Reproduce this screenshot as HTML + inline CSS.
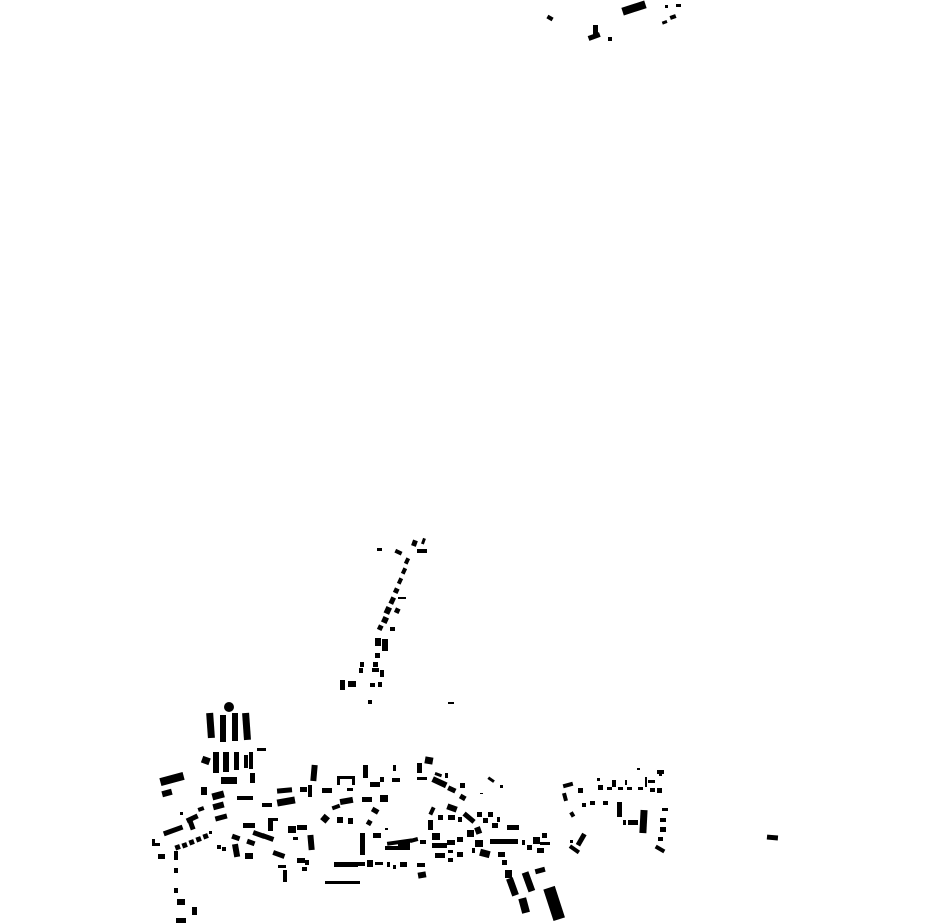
<!DOCTYPE html>
<html><head><meta charset="utf-8"><style>html,body{margin:0;padding:0;background:#fff}svg{display:block}</style></head>
<body>
<svg width="930" height="924" viewBox="0 0 930 924" xmlns="http://www.w3.org/2000/svg">
<g fill="#000">
<!-- top -->
<rect x="547" y="16" width="6" height="4" transform="rotate(30 550 18)"/>
<rect x="622" y="4" width="24" height="8" transform="rotate(-18 634 8)"/>
<rect x="593" y="25" width="5" height="11"/>
<rect x="588" y="34" width="12" height="5" transform="rotate(-20 594 36)"/>
<rect x="608" y="37" width="4" height="4"/>
<rect x="665" y="5" width="3" height="3"/>
<rect x="676" y="4" width="5" height="3"/>
<rect x="670" y="15" width="6" height="4" transform="rotate(-20 673 17)"/>
<rect x="662" y="21" width="5" height="3" transform="rotate(-20 664 22)"/>
<!-- middle strand -->
<rect x="377" y="548" width="5" height="3"/>
<rect x="395" y="550" width="7" height="4" transform="rotate(25 398 552)"/>
<rect x="412" y="540" width="5" height="6" transform="rotate(20 414 543)"/>
<rect x="422" y="538" width="3" height="6" transform="rotate(20 423 541)"/>
<rect x="417" y="549" width="10" height="4"/>
<rect x="405" y="558" width="4" height="6" transform="rotate(25 407 561)"/>
<rect x="402" y="568" width="4" height="6" transform="rotate(25 404 571)"/>
<rect x="398" y="578" width="4" height="6" transform="rotate(25 400 581)"/>
<rect x="394" y="588" width="5" height="5" transform="rotate(25 396 590)"/>
<rect x="390" y="597" width="5" height="7" transform="rotate(25 392 600)"/>
<rect x="398" y="597" width="8" height="2"/>
<rect x="385" y="607" width="6" height="7" transform="rotate(25 388 610)"/>
<rect x="395" y="608" width="5" height="5" transform="rotate(25 397 610)"/>
<rect x="382" y="617" width="6" height="6" transform="rotate(25 385 620)"/>
<rect x="378" y="625" width="5" height="5" transform="rotate(25 380 627)"/>
<rect x="390" y="627" width="5" height="4"/>
<rect x="375" y="638" width="6" height="8"/>
<rect x="382" y="639" width="6" height="12"/>
<rect x="375" y="653" width="5" height="5"/>
<rect x="373" y="662" width="5" height="5"/>
<rect x="360" y="662" width="4" height="5"/>
<rect x="359" y="668" width="4" height="5"/>
<rect x="372" y="668" width="7" height="4"/>
<rect x="380" y="670" width="4" height="7"/>
<rect x="340" y="680" width="5" height="10"/>
<rect x="348" y="681" width="8" height="6"/>
<rect x="370" y="683" width="5" height="4"/>
<rect x="378" y="682" width="4" height="5"/>
<rect x="368" y="700" width="4" height="4"/>
<rect x="448" y="702" width="6" height="2"/>
<!-- left cluster -->
<circle cx="229" cy="707" r="5"/>
<rect x="207" y="713" width="7" height="25" transform="rotate(-4 210 725)"/>
<rect x="220" y="715" width="6" height="27"/>
<rect x="232" y="713" width="6" height="28"/>
<rect x="243" y="713" width="7" height="27" transform="rotate(-4 246 726)"/>
<rect x="202" y="757" width="8" height="7" transform="rotate(20 206 760)"/>
<rect x="213" y="752" width="6" height="21"/>
<rect x="223" y="752" width="6" height="20"/>
<rect x="234" y="752" width="5" height="18"/>
<rect x="244" y="755" width="4" height="13"/>
<rect x="249" y="752" width="4" height="17"/>
<rect x="257" y="748" width="9" height="3"/>
<rect x="160" y="775" width="24" height="8" transform="rotate(-15 172 779)"/>
<rect x="162" y="790" width="10" height="6" transform="rotate(-15 167 793)"/>
<rect x="221" y="777" width="16" height="7"/>
<rect x="250" y="773" width="5" height="10"/>
<rect x="201" y="787" width="6" height="8"/>
<rect x="212" y="792" width="12" height="7" transform="rotate(-15 218 795)"/>
<rect x="213" y="803" width="11" height="6" transform="rotate(-15 218 806)"/>
<rect x="215" y="815" width="12" height="5" transform="rotate(-15 221 817)"/>
<rect x="237" y="796" width="16" height="4"/>
<rect x="180" y="812" width="3" height="3"/>
<rect x="198" y="807" width="6" height="4" transform="rotate(-20 201 809)"/>
<rect x="186" y="816" width="12" height="5" transform="rotate(-25 192 818)"/>
<rect x="189" y="820" width="5" height="10" transform="rotate(-20 191 825)"/>
<rect x="163" y="828" width="20" height="5" transform="rotate(-20 173 830)"/>
<rect x="152" y="839" width="3" height="6"/>
<rect x="152" y="843" width="8" height="3"/>
<rect x="158" y="854" width="7" height="5"/>
<rect x="175" y="845" width="5" height="5" transform="rotate(-20 177 847)"/>
<rect x="182" y="843" width="5" height="5" transform="rotate(-20 184 845)"/>
<rect x="189" y="840" width="5" height="5" transform="rotate(-20 191 842)"/>
<rect x="196" y="837" width="5" height="5" transform="rotate(-20 198 839)"/>
<rect x="203" y="834" width="5" height="5" transform="rotate(-20 205 836)"/>
<rect x="209" y="831" width="3" height="3"/>
<rect x="174" y="851" width="4" height="9"/>
<rect x="174" y="868" width="4" height="5"/>
<rect x="174" y="888" width="4" height="5"/>
<rect x="177" y="899" width="8" height="6"/>
<rect x="192" y="907" width="5" height="8"/>
<rect x="176" y="918" width="10" height="5"/>
<rect x="217" y="845" width="4" height="4"/>
<rect x="222" y="847" width="4" height="4"/>
<rect x="233" y="844" width="6" height="13" transform="rotate(-10 236 850)"/>
<rect x="245" y="853" width="8" height="6"/>
<rect x="232" y="835" width="8" height="5" transform="rotate(20 236 837)"/>
<rect x="262" y="803" width="10" height="4"/>
<rect x="277" y="798" width="18" height="7" transform="rotate(-10 286 801)"/>
<rect x="277" y="788" width="15" height="5" transform="rotate(-5 284 790)"/>
<rect x="300" y="787" width="7" height="5"/>
<rect x="311" y="765" width="6" height="16" transform="rotate(5 314 773)"/>
<rect x="308" y="785" width="4" height="12"/>
<rect x="322" y="788" width="10" height="5"/>
<rect x="337" y="776" width="18" height="3"/>
<rect x="337" y="776" width="3" height="9"/>
<rect x="352" y="776" width="3" height="9"/>
<rect x="347" y="788" width="6" height="3"/>
<rect x="340" y="798" width="13" height="6" transform="rotate(-10 346 801)"/>
<rect x="362" y="797" width="10" height="5"/>
<rect x="380" y="795" width="8" height="7"/>
<rect x="363" y="765" width="5" height="13"/>
<rect x="370" y="782" width="10" height="5"/>
<rect x="380" y="777" width="4" height="5"/>
<rect x="392" y="778" width="8" height="4"/>
<rect x="393" y="765" width="3" height="6"/>
<rect x="322" y="815" width="7" height="7" transform="rotate(40 325 818)"/>
<rect x="332" y="805" width="8" height="4" transform="rotate(-20 336 807)"/>
<rect x="337" y="817" width="6" height="6"/>
<rect x="348" y="818" width="5" height="6"/>
<rect x="367" y="820" width="5" height="5" transform="rotate(30 369 822)"/>
<rect x="372" y="808" width="7" height="5" transform="rotate(30 375 810)"/>
<rect x="243" y="823" width="12" height="5"/>
<rect x="268" y="818" width="5" height="13"/>
<rect x="268" y="818" width="10" height="3"/>
<rect x="288" y="826" width="8" height="7"/>
<rect x="297" y="825" width="10" height="5"/>
<rect x="293" y="837" width="5" height="3"/>
<rect x="308" y="835" width="6" height="15" transform="rotate(-5 311 842)"/>
<rect x="253" y="832" width="12" height="5" transform="rotate(20 259 834)"/>
<rect x="262" y="835" width="12" height="5" transform="rotate(20 268 837)"/>
<rect x="247" y="840" width="8" height="5" transform="rotate(20 251 842)"/>
<rect x="273" y="852" width="12" height="5" transform="rotate(20 279 854)"/>
<rect x="297" y="858" width="8" height="5"/>
<rect x="305" y="860" width="4" height="5"/>
<rect x="302" y="867" width="5" height="4"/>
<rect x="278" y="865" width="8" height="3"/>
<rect x="283" y="870" width="4" height="12"/>
<rect x="334" y="862" width="24" height="5"/>
<rect x="358" y="862" width="7" height="4"/>
<rect x="367" y="860" width="6" height="7"/>
<rect x="375" y="862" width="8" height="3"/>
<rect x="387" y="862" width="3" height="5"/>
<rect x="393" y="865" width="3" height="4"/>
<rect x="402" y="862" width="5" height="5"/>
<rect x="325" y="881" width="35" height="3"/>
<rect x="360" y="833" width="5" height="22"/>
<rect x="373" y="833" width="8" height="5"/>
<rect x="385" y="828" width="3" height="2"/>
<rect x="387" y="840" width="25" height="4" transform="rotate(-8 400 842)"/>
<rect x="385" y="846" width="15" height="4"/>
<rect x="398" y="842" width="5" height="8"/>
<rect x="410" y="838" width="8" height="4" transform="rotate(-15 414 840)"/>
<rect x="420" y="840" width="6" height="4"/>
<rect x="400" y="840" width="10" height="10"/>
<rect x="400" y="862" width="7" height="5"/>
<rect x="417" y="863" width="8" height="4"/>
<rect x="418" y="872" width="8" height="6" transform="rotate(-10 422 875)"/>
<!-- center loop -->
<rect x="417" y="763" width="5" height="10"/>
<rect x="425" y="757" width="8" height="7" transform="rotate(10 429 760)"/>
<rect x="417" y="777" width="10" height="3"/>
<rect x="432" y="779" width="15" height="6" transform="rotate(25 439 782)"/>
<rect x="435" y="773" width="7" height="3" transform="rotate(20 438 774)"/>
<rect x="445" y="773" width="3" height="5"/>
<rect x="448" y="787" width="8" height="5" transform="rotate(25 452 789)"/>
<rect x="460" y="783" width="5" height="5"/>
<rect x="460" y="795" width="6" height="5" transform="rotate(30 463 797)"/>
<rect x="488" y="778" width="7" height="3" transform="rotate(35 491 779)"/>
<rect x="500" y="785" width="3" height="3"/>
<rect x="480" y="793" width="3" height="1"/>
<rect x="430" y="807" width="4" height="8" transform="rotate(25 432 811)"/>
<rect x="428" y="820" width="5" height="10"/>
<rect x="438" y="815" width="5" height="5"/>
<rect x="447" y="805" width="10" height="6" transform="rotate(20 452 808)"/>
<rect x="448" y="815" width="7" height="5"/>
<rect x="458" y="817" width="4" height="5"/>
<rect x="463" y="815" width="13" height="5" transform="rotate(40 469 817)"/>
<rect x="475" y="827" width="6" height="7" transform="rotate(-20 478 830)"/>
<rect x="477" y="812" width="5" height="5"/>
<rect x="483" y="818" width="5" height="5"/>
<rect x="488" y="812" width="5" height="5"/>
<rect x="497" y="817" width="3" height="5"/>
<rect x="492" y="823" width="6" height="5"/>
<rect x="507" y="825" width="12" height="5"/>
<rect x="490" y="839" width="28" height="5"/>
<rect x="522" y="840" width="3" height="5"/>
<rect x="527" y="845" width="5" height="5"/>
<rect x="533" y="837" width="7" height="7"/>
<rect x="542" y="833" width="5" height="5"/>
<rect x="540" y="842" width="10" height="3"/>
<rect x="537" y="848" width="7" height="5"/>
<rect x="432" y="833" width="8" height="7"/>
<rect x="432" y="843" width="15" height="5"/>
<rect x="447" y="840" width="8" height="5"/>
<rect x="457" y="837" width="6" height="5"/>
<rect x="467" y="830" width="7" height="7"/>
<rect x="475" y="840" width="8" height="7"/>
<rect x="480" y="850" width="10" height="7" transform="rotate(15 485 853)"/>
<rect x="435" y="853" width="10" height="5"/>
<rect x="448" y="850" width="5" height="3"/>
<rect x="448" y="858" width="5" height="4"/>
<rect x="457" y="852" width="6" height="5"/>
<rect x="472" y="848" width="3" height="5"/>
<rect x="498" y="852" width="7" height="5"/>
<rect x="502" y="860" width="5" height="5"/>
<rect x="505" y="870" width="7" height="8"/>
<rect x="509" y="878" width="7" height="18" transform="rotate(-20 512 887)"/>
<rect x="525" y="872" width="7" height="20" transform="rotate(-20 528 882)"/>
<rect x="535" y="868" width="10" height="5" transform="rotate(-15 540 870)"/>
<rect x="520" y="898" width="8" height="15" transform="rotate(-15 524 905)"/>
<rect x="548" y="887" width="12" height="33" transform="rotate(-18 554 903)"/>
<!-- right cluster -->
<rect x="563" y="783" width="10" height="4" transform="rotate(-15 568 785)"/>
<rect x="563" y="793" width="4" height="8" transform="rotate(-15 565 797)"/>
<rect x="578" y="788" width="5" height="5"/>
<rect x="582" y="803" width="4" height="4"/>
<rect x="590" y="801" width="5" height="4"/>
<rect x="603" y="801" width="5" height="4"/>
<rect x="570" y="812" width="4" height="5" transform="rotate(-30 572 814)"/>
<rect x="597" y="778" width="3" height="3"/>
<rect x="598" y="785" width="5" height="5"/>
<rect x="607" y="787" width="5" height="3"/>
<rect x="612" y="780" width="4" height="7"/>
<rect x="618" y="787" width="5" height="3"/>
<rect x="625" y="780" width="2" height="5"/>
<rect x="627" y="787" width="5" height="3"/>
<rect x="637" y="768" width="3" height="2"/>
<rect x="638" y="787" width="5" height="3"/>
<rect x="645" y="777" width="2" height="10"/>
<rect x="648" y="780" width="7" height="3"/>
<rect x="650" y="788" width="5" height="4"/>
<rect x="657" y="770" width="7" height="4"/>
<rect x="659" y="773" width="3" height="3"/>
<rect x="657" y="788" width="5" height="5"/>
<rect x="617" y="802" width="5" height="15"/>
<rect x="623" y="820" width="3" height="5"/>
<rect x="628" y="820" width="10" height="5"/>
<rect x="640" y="810" width="7" height="23" transform="rotate(3 643 821)"/>
<rect x="662" y="808" width="6" height="3"/>
<rect x="660" y="818" width="6" height="4"/>
<rect x="660" y="827" width="6" height="5"/>
<rect x="658" y="837" width="5" height="4"/>
<rect x="655" y="847" width="10" height="4" transform="rotate(30 660 849)"/>
<rect x="579" y="833" width="5" height="13" transform="rotate(30 581 839)"/>
<rect x="569" y="847" width="11" height="4" transform="rotate(35 574 849)"/>
<rect x="570" y="840" width="3" height="3"/>
<rect x="767" y="835" width="11" height="5" transform="rotate(5 772 837)"/>
</g>
</svg>
</body></html>
